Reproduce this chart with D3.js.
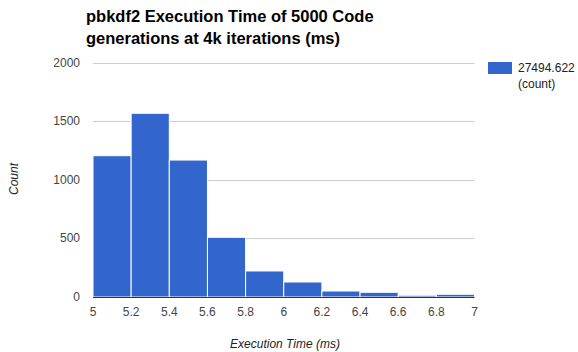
<!DOCTYPE html>
<html><head><meta charset="utf-8">
<script src="https://cdn.jsdelivr.net/npm/d3@7"></script>
<style>body{margin:0;background:#fff;}svg{display:block;font-family:Arial,"Liberation Sans",sans-serif;}</style>
</head><body><svg id="c" width="578" height="352"></svg>
<script>
const binStarts = [5, 5.2, 5.4, 5.6, 5.8, 6, 6.2, 6.4, 6.6, 6.8];
const binWidth = 0.2;
const counts = [1205, 1567, 1168, 509, 222, 128, 51, 40, 15, 23];
const yTicks = [0, 500, 1000, 1500, 2000];
const xTicks = [5, 5.2, 5.4, 5.6, 5.8, 6, 6.2, 6.4, 6.6, 6.8, 7];
const seriesName = ["27494.622", "(count)"];
const titleLines = ["pbkdf2 Execution Time of 5000 Code", "generations at 4k iterations (ms)"];

const svg = d3.select("#c");
const x = d3.scaleLinear().domain([5, 7]).range([93, 474.5]);
const y = d3.scaleLinear().domain([0, 2000]).range([297, 62.5]);

// gridlines
svg.append("g").selectAll("line").data(yTicks.filter(d => d > 0)).join("line")
  .attr("x1", x(5)).attr("x2", x(7)).attr("y1", d => Math.round(y(d)) + 0.5).attr("y2", d => Math.round(y(d)) + 0.5)
  .attr("stroke", "#cccccc").attr("stroke-width", 1);

// bars
svg.append("g").selectAll("rect").data(binStarts).join("rect")
  .attr("x", (d) => x(d))
  .attr("width", d => x(d + binWidth) - x(d))
  .attr("y", (d, i) => y(counts[i]))
  .attr("height", (d, i) => y(0) - y(counts[i]))
  .attr("fill", "#3366cc").attr("stroke", "#ffffff").attr("stroke-width", 1);

// baseline
svg.append("line").attr("x1", x(5)).attr("x2", x(7)).attr("y1", y(0) + 0.5).attr("y2", y(0) + 0.5)
  .attr("stroke", "#333333").attr("stroke-width", 1);

// y tick labels
svg.append("g").selectAll("text").data(yTicks).join("text")
  .attr("x", 80).attr("y", d => y(d) + 4).attr("text-anchor", "end")
  .attr("font-size", 12).attr("fill", "#444444").text(d => d);

// x tick labels
svg.append("g").selectAll("text").data(xTicks).join("text")
  .attr("x", d => x(d)).attr("y", 316).attr("text-anchor", "middle")
  .attr("font-size", 12).attr("fill", "#444444").text(d => d3.format("~g")(d));

// title
svg.append("g").selectAll("text").data(titleLines).join("text")
  .attr("x", 86).attr("y", (d, i) => 22 + i * 22)
  .attr("font-size", 16.5).attr("font-weight", "bold").attr("fill", "#000").text(d => d);

// axis titles
svg.append("text").attr("x", 285).attr("y", 347.5).attr("text-anchor", "middle")
  .attr("font-size", 12).attr("font-style", "italic").attr("fill", "#222").text("Execution Time (ms)");
svg.append("text").attr("transform", "translate(18,179) rotate(-90)").attr("text-anchor", "middle")
  .attr("font-size", 12).attr("font-style", "italic").attr("fill", "#222").text("Count");

// legend
svg.append("rect").attr("x", 488).attr("y", 62).attr("width", 24).attr("height", 12).attr("fill", "#3366cc");
svg.append("g").selectAll("text").data(seriesName).join("text")
  .attr("x", 518).attr("y", (d, i) => 72 + i * 16)
  .attr("font-size", 12).attr("fill", "#222").text(d => d);
</script></body></html>
